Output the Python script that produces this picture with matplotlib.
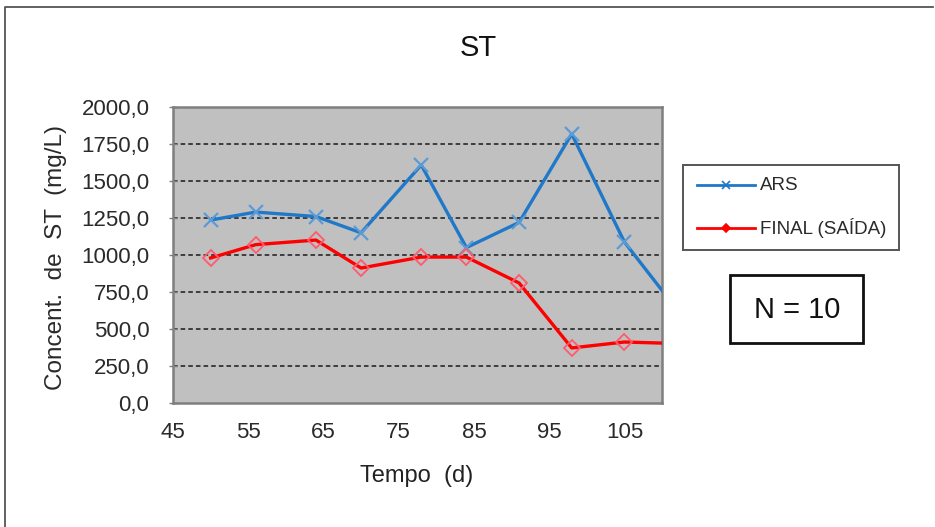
import matplotlib
matplotlib.use("Agg")
import matplotlib.pyplot as plt
from matplotlib.lines import Line2D
from matplotlib.patches import Rectangle
from matplotlib.ticker import FuncFormatter

plt.rcParams['font.family'] = ['Liberation Sans', 'DejaVu Sans']

# Sampling days and total solids (ST) concentrations, mg/L
dias = [50, 56, 64, 70, 78, 84, 91, 98, 105, 112]
ars = [1236, 1290, 1260, 1150, 1608, 1050, 1220, 1818, 1088, 630]
final_saida = [980, 1070, 1101, 912, 986, 986, 811, 372, 412, 402]

x_ticks = [45, 55, 65, 75, 85, 95, 105]
y_ticks = [0, 250, 500, 750, 1000, 1250, 1500, 1750, 2000]

W, H = 935, 527
fig = plt.figure(figsize=(W / 100, H / 100), dpi=100)
fig.patch.set_facecolor('white')

# outer chart frame (left and top edges)
fig.lines.append(Line2D([5 / W, 5 / W, 933 / W], [0, 1 - 7 / H, 1 - 7 / H],
                        transform=fig.transFigure, color='#555555',
                        linewidth=1.3))

ax = fig.add_axes([173 / W, 1 - 403 / H, (662 - 173) / W, (403 - 107) / H])
ax.set_facecolor('#c0c0c0')
for s in ax.spines.values():
    s.set_color('#7f7f7f')
    s.set_linewidth(1.8)

ax.set_xlim(45, 110)
ax.set_ylim(0, 2000)
ax.set_xticks(x_ticks)
ax.set_yticks(y_ticks)
ax.yaxis.set_major_formatter(FuncFormatter(lambda v, p: f"{v:.1f}".replace('.', ',')))
ax.tick_params(axis='x', length=0, pad=14, labelsize=16, colors='#2a2a2a')
ax.tick_params(axis='y', direction='inout', length=6, width=1, color='#7f7f7f',
               pad=14, labelsize=16, labelcolor='#2a2a2a')

for yv in y_ticks[1:-1]:
    ax.axhline(yv, color='#1a1a1a', linestyle=(0, (3, 2)), linewidth=1.1, zorder=1)

ax.plot(dias, ars, color='#1f78c8', linewidth=2.4, zorder=3, label='ARS',
        marker='x', markersize=10, markeredgewidth=1.6,
        markeredgecolor='#5b9bd5')
ax.plot(dias, final_saida, color='#ff0000', linewidth=2.4, zorder=3,
        label='FINAL (SAÍDA)', marker='D', markersize=8.5,
        markerfacecolor='none', markeredgewidth=1.3,
        markeredgecolor='#ff5a6e')

fig.text(478 / W, 1 - 48 / H, 'ST', ha='center', va='center', fontsize=21,
         color='#111111')
fig.text(417 / W, 1 - 476 / H, 'Tempo  (d)', ha='center', va='center',
         fontsize=17, color='#222222')
fig.text(56 / W, 1 - 257 / H, 'Concent.  de  ST  (mg/L)', ha='center',
         va='center', rotation=90, fontsize=17.5, color='#2a2a2a')

# legend box
fig.patches.append(Rectangle((683 / W, 1 - 250 / H), 216 / W, 85 / H,
                             transform=fig.transFigure, fill=True,
                             facecolor='white', edgecolor='#555555',
                             linewidth=1.4))
handles, labels = ax.get_legend_handles_labels()
leg_y = [185, 228]
leg_marker_size = [6, 4.5]
for h, lab, yy, ms in zip(handles, labels, leg_y, leg_marker_size):
    fig.lines.append(Line2D(
        [697 / W, 755 / W], [1 - yy / H, 1 - yy / H],
        transform=fig.transFigure, color=h.get_color(), linewidth=2.0))
    fig.lines.append(Line2D(
        [726 / W], [1 - yy / H], transform=fig.transFigure,
        marker=h.get_marker(), markersize=ms, markerfacecolor=h.get_color(),
        markeredgecolor=h.get_color(), markeredgewidth=1.2, linestyle='none'))
    fig.text(760 / W, 1 - yy / H, lab, ha='left', va='center', fontsize=13.5,
             color='#2a2a2a')

# sample count box
fig.patches.append(Rectangle((730 / W, 1 - 343 / H), 133 / W, 68 / H,
                             transform=fig.transFigure, fill=False,
                             edgecolor='#111111', linewidth=2.0))
fig.text(797 / W, 1 - 310 / H, 'N = 10', ha='center', va='center',
         fontsize=21, color='#111111')

fig.savefig('out.png', dpi=100)
